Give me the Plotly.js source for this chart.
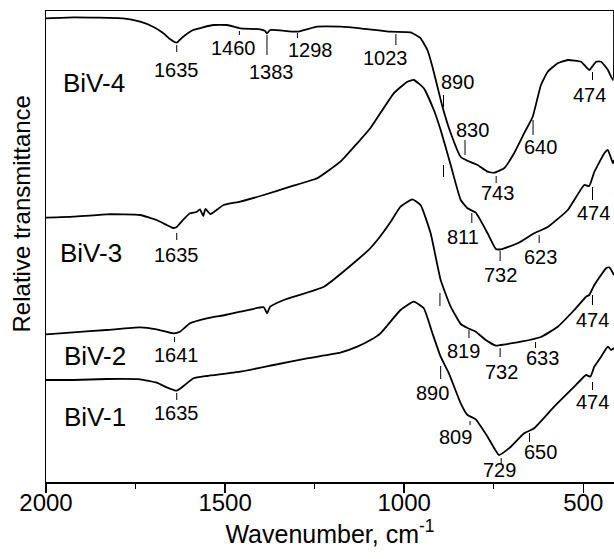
<!DOCTYPE html>
<html>
<head>
<meta charset="utf-8">
<script src="https://cdn.plot.ly/plotly-3.0.1.min.js"></script>
<style>
  html, body { margin: 0; padding: 0; background: #fff; }
  #chart { width: 614px; height: 559px; }
</style>
</head>
<body>
<div id="chart"></div>
<script>
// ---------------- DATA ----------------
const seriesNames = ['BiV-4', 'BiV-3', 'BiV-2', 'BiV-1'];

const wn4 = [2000,1924,1785,1737,1701,1673,1654,1635,1617,1589,1533,1494,1458,1402,1388,1383,1374,1299,1243,1178,1122,1038,982,954,935,921,907,893,870,842,823,795,767,749,721,693,665,641,618,599,571,543,506,483,464,450,431,417,414];
const tr4 = [463.7,464.7,463.7,460.3,455.3,449,443,439.3,445.3,452,457,457,453.7,452.7,451,448.5,452,450.3,455.3,455.3,453.7,450.3,449.7,443.7,432,415.3,395.3,375.3,349,325,321.3,317,310.3,309.3,313.7,328.7,348.7,365.3,397,410.3,418.7,422,420.3,412,420.3,420.3,412,402,471];

const wn3 = [2000,1924,1831,1737,1691,1663,1645,1635,1626,1598,1580,1570,1561,1555,1541,1504,1458,1392,1318,1243,1178,1131,1094,1029,991,973,945,917,898,870,842,823,800,767,744,730,683,637,599,543,497,483,469,441,431,417,414];
const tr3 = [264.3,265.3,267.7,267,262,257,254,255,258.7,268.7,270,272.7,266,273,268,277,280.3,287,295.3,303.7,320.3,338.7,354,388.7,400.3,402,393.7,372,352,317,282,273.7,269.3,248.7,233,232.7,238.7,248.7,255,272,297,296,310,328.7,332,318.7,322];

const wn2 = [2000,1924,1831,1737,1691,1644,1626,1598,1551,1500,1458,1392,1383,1374,1336,1224,1131,1094,1066,1038,1010,977,954,926,898,870,842,823,800,772,744,730,674,618,571,525,492,483,469,436,427,414];
const tr2 = [147.7,149.7,152,154.7,152.7,148.7,150.3,158.7,163.7,167,170.3,174.7,168.7,175.3,182,195.3,222,234,246,260,275.3,282.7,277,248.7,202,175.3,158,154,150.3,142,136.3,137,140.3,145,155.3,172,185.3,187,197,213.7,214.7,207];

const wn1 = [2000,1924,1831,1737,1691,1663,1635,1616,1588,1551,1458,1364,1271,1178,1131,1094,1066,1010,973,945,921,898,875,842,823,800,767,735,702,665,637,581,525,492,480,469,450,431,422,414];
const tr1 = [102,102,103,102.7,99.3,94.7,91.3,96,103.7,106,110.3,117,123.7,129.3,135.3,142,148.7,172,180.3,173.7,148.7,125.3,108.7,78.7,67,62.7,45.3,27,35.3,48.7,53.7,75.3,95.3,107,105.3,115.3,125.3,135.3,132,134];

const xTickVals = [2000, 1500, 1000, 500];
const xTickText = ['2000', '1500', '1000', '500'];
const xMinorVals = [1750, 1250, 750];

// peak labels (text) per spectrum
const peaks4 = ['1635','1460','1383','1298','1023','890','830','743','640','474'];
const peaks3 = ['1635','','811','732','623','474'];
const peaks2 = ['1641','','819','732','633','474'];
const peaks1 = ['1635','890','809','729','650','474'];

// ---------------- LAYOUT CONFIG (positions) ----------------
// [tickX, tickY0, tickY1, labelX, labelY] in axis units, one per peak label
const marks4 = [[1635,437,430,1635,412],[1460,451,447,1476,434],[1383,447,427,1369,410],[1298,449,444,1262,432],
                [1023,448,437,1052,424],[890,387,375,851,400],[830,342,327,809,352],[743,306,299,739,289],
                [640,362,347,618,335],[474,410,402,483,387]];
const marks3 = [[1635,249,242,1635,227],[890,317,305,null,null],[811,269,259,837,245],[732,231,221,730,207],
                [623,247,239,618,225],[474,295,282,472,269]];
const marks2 = [[1641,145,140,1635,127],[900,189,176,null,null],[819,152,144,833,131],[732,134,125,728,110],
                [633,140,134,613,124],[474,187,177,475,162]];
const marks1 = [[1635,89,82,1635,69],[898,116,103,921,89],[816,61,57,856,45],[729,24,19,733,12],
                [650,49,40,618,30],[474,100,92,475,80]];
const nameLabelPos = [[1867,399],[1874,229],[1864,126],[1864,65]];

const FONT = 'Liberation Sans, Arial, Helvetica, sans-serif';

const xs = [wn4, wn3, wn2, wn1];
const ys = [tr4, tr3, tr2, tr1];
const traces = xs.map((x, i) => ({
  x: x, y: ys[i], name: seriesNames[i], type: 'scatter', mode: 'lines',
  line: {color: '#000', width: 1.8, shape: 'spline', smoothing: 0.4},
  hoverinfo: 'skip'
}));

const shapes = [];
const annotations = [];
[[peaks4, marks4],[peaks3, marks3],[peaks2, marks2],[peaks1, marks1]].forEach(([labels, marks]) => {
  labels.forEach((t, j) => {
    const m = marks[j];
    shapes.push({type:'line', xref:'x', yref:'y', x0:m[0], x1:m[0], y0:m[1], y1:m[2],
                 line:{color:'#000', width:1}});
    if (t !== '' && m[3] !== null) {
      annotations.push({x:m[3], y:m[4], xref:'x', yref:'y', text:t, showarrow:false,
                        xanchor:'center', yanchor:'middle', font:{family:FONT, size:20, color:'#000'}});
    }
  });
});
seriesNames.forEach((n, i) => {
  annotations.push({x:nameLabelPos[i][0], y:nameLabelPos[i][1], xref:'x', yref:'y', text:n, showarrow:false,
                    xanchor:'center', yanchor:'middle', font:{family:FONT, size:26, color:'#000'}});
});
// y-axis title as rotated annotation
annotations.push({xref:'paper', yref:'paper', x:-0.044, y:0.568, text:'Relative transmittance', textangle:-90,
                  showarrow:false, xanchor:'center', yanchor:'middle', font:{family:FONT, size:24, color:'#000'}});

const layout = {
  width: 614, height: 559,
  margin: {l: 46, r: 0, t: 11, b: 77, pad: 0},
  paper_bgcolor: '#fff', plot_bgcolor: '#fff',
  showlegend: false,
  font: {family: FONT, color: '#000'},
  xaxis: {
    range: [2000, 414], autorange: false,
    tickmode: 'array', tickvals: xTickVals, ticktext: xTickText,
    ticks: 'outside', ticklen: 9, tickwidth: 1.3, tickcolor: '#000',
    ticklabelstandoff: -10,
    minor: {tickmode: 'array', tickvals: xMinorVals, ticks: 'outside', ticklen: 5, tickwidth: 1.3, tickcolor: '#000'},
    showline: true, linecolor: '#000', linewidth: 1.5, mirror: true,
    showgrid: false, zeroline: false,
    tickfont: {family: FONT, size: 24, color: '#000'},
    title: {text: 'Wavenumber, cm<sup>-1</sup>', font: {family: FONT, size: 25, color: '#000'}, standoff: 0}
  },
  yaxis: {
    range: [0, 471], autorange: false,
    showline: true, linecolor: '#000', linewidth: 1.5, mirror: false,
    showticklabels: false, ticks: '', showgrid: false, zeroline: false
  },
  shapes: shapes,
  annotations: annotations
};

Plotly.newPlot('chart', traces, layout, {displayModeBar: false, staticPlot: true});
</script>
</body>
</html>
